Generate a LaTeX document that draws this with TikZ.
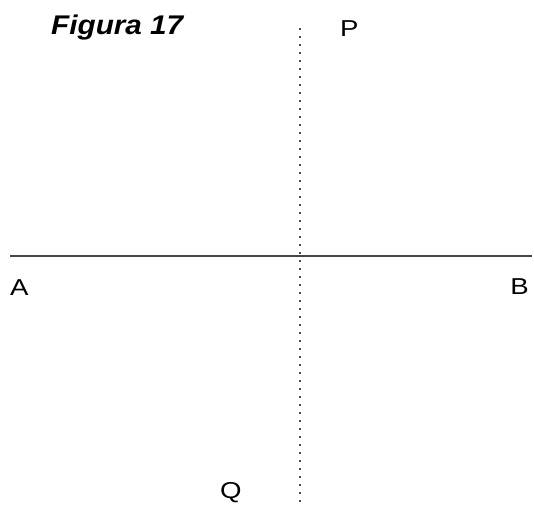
\documentclass[tikz,border=0pt]{standalone}
\usepackage{fontspec}
\setmainfont{Liberation Sans}
\tikzset{
  lbl/.style={inner sep=0pt, anchor=base west, font=\fontsize{23}{26}\selectfont, xscale=1.2},
  ttl/.style={inner sep=0pt, anchor=base west, font=\fontsize{27}{30}\selectfont\bfseries\itshape, xscale=1.1},
  axisline/.style={line width=1.8pt, color=black!72},
  dotline/.style={line width=1.6pt, color=black!70, dash pattern=on 1.6pt off 6.4pt}
}
\begin{document}
\begin{tikzpicture}[x=1pt,y=1pt]
\useasboundingbox (0,0) rectangle (534,-504);
\coordinate (ea) at (10,-256);
\coordinate (eb) at (532,-256);
\coordinate (ep) at (300,-28);
\coordinate (eq) at (300,-504);
\draw [axisline] (ea) -- (eb);
\draw [dotline] (ep) -- (eq);
\node [ttl] (title) at (51,-34) {Figura 17};
\node [lbl] (P) at (340,-36) {P};
\node [lbl] (A) at (10,-295) {A};
\node [lbl] (B) at (510,-294) {B};
\node [lbl] (Q) at (220,-498) {Q};
\end{tikzpicture}
\end{document}
